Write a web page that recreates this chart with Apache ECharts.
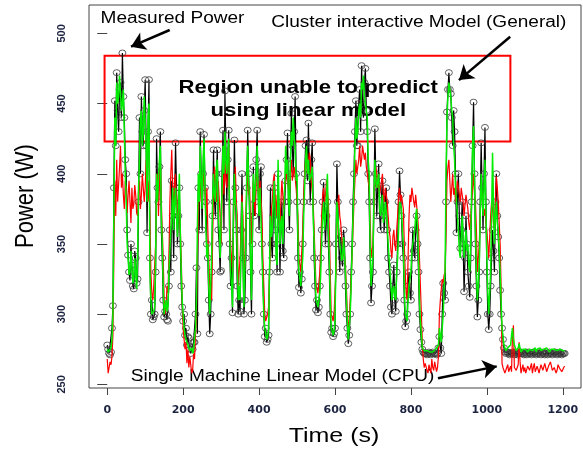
<!DOCTYPE html>
<html>
<head>
<meta charset="utf-8">
<script src="https://cdn.jsdelivr.net/npm/echarts@6/dist/echarts.min.js"></script>
<style>
html,body{margin:0;padding:0;background:#fff;}
#chart{width:583px;height:453px;}
</style>
</head>
<body>
<div id="chart"></div>
<script>
// Sampling step of the time axis (seconds)
const STEP = 2.5;

// Measured power (W), one value every 2.5 s starting at t = 0 (rows of 50 s)
const measured = [
 278,275,272,271,273,290,306,390,452,420,472,445,430,460,465,440,486,455,440,410,
 400,360,342,330,324,350,335,320,318,345,340,322,325,380,440,400,455,430,420,445,
 467,420,358,430,467,340,300,310,296,298,300,330,425,390,380,405,430,360,340,310,
 298,302,300,296,295,320,360,330,395,370,340,380,422,390,350,370,390,350,320,305,
 295,300,285,290,278,284,283,275,272,276,275,280,280,300,333,286,390,360,430,400,
 360,400,428,390,380,350,340,310,286,300,330,370,417,380,370,400,417,360,350,330,
 331,400,431,360,459,420,380,410,431,350,320,340,301,380,424,390,360,320,300,310,
 302,360,400,340,300,310,340,390,431,400,370,330,300,350,405,370,380,410,431,390,
 360,400,405,350,330,300,284,290,280,282,285,330,390,350,340,370,390,360,350,330,
 400,370,330,360,380,345,340,380,395,410,429,380,360,400,443,420,400,430,455,400,
 380,340,319,330,315,325,350,380,400,420,424,395,436,400,380,410,422,380,340,320,
 303,310,301,305,320,340,360,380,394,370,350,370,380,350,330,300,287,290,284,286,
 290,350,407,380,350,330,355,340,334,360,350,320,300,290,279,285,300,330,350,380,
 400,430,452,420,420,450,460,430,477,450,440,465,475,445,430,400,380,340,308,320,
 330,380,432,400,370,390,407,370,360,385,395,370,360,380,390,360,340,330,320,305,
 300,320,335,310,302,330,350,380,402,385,370,350,340,310,291,295,300,320,330,315,
 310,340,360,345,340,360,370,350,330,300,289,280,275,273,272,272,272,271,272,273,
 272,271,272,273,272,272,272,271,272,276,284,276,272,300,322,315,310,380,444,460,
 472,460,457,440,420,445,430,400,358,380,400,370,347,360,380,350,316,340,370,350,
 330,320,312,340,380,420,451,400,350,320,298,310,330,380,422,390,360,400,433,380,
 330,300,289,300,320,340,360,345,330,380,400,370,355,340,317,300,290,282,276,273,
 272,273,273,272,271,272,272,273,272,271,273,272,271,272,272,273,273,272,272,271,
 272,273,271,272,273,272,272,271,272,273,273,272,271,272,272,273,272,271,273,272,
 272,271,272,273,271,272,273,272,272,271,272,273,273,272,271,272,272,273,272,271,
 272,272,272
];

// Single Machine Linear Model (CPU) prediction (W)
const linearModel = [
 268,258,262,266,264,270,285,340,395,370,410,380,380,405,420,390,400,385,375,395,
 390,372,385,395,380,365,390,375,378,392,385,372,370,388,395,375,385,400,400,380,
 390,410,405,380,395,370,330,315,310,320,320,350,385,400,370,395,410,380,360,340,
 310,300,305,320,315,340,380,400,417,390,370,395,400,375,365,385,385,360,340,310,
 290,282,275,280,265,275,262,270,270,258,260,272,268,285,300,340,370,390,395,380,
 380,395,400,385,370,390,360,340,320,315,310,350,390,405,405,380,380,395,395,370,
 350,380,400,385,410,395,390,410,420,380,350,340,330,360,390,405,380,370,320,330,
 340,360,385,370,320,340,370,390,400,385,390,370,350,380,395,380,370,395,410,390,
 380,395,395,370,340,320,300,295,295,300,305,330,350,375,380,395,400,385,370,385,
 385,370,360,380,395,385,375,390,390,400,400,390,385,400,410,395,395,405,405,390,
 390,370,340,335,330,345,360,385,400,410,415,400,400,415,410,395,395,380,360,340,
 320,318,315,322,330,350,370,385,390,380,385,395,395,380,360,330,300,298,295,300,
 300,330,360,380,385,370,365,355,350,345,345,335,320,300,290,295,310,325,340,360,
 380,395,410,400,400,410,420,405,410,420,420,410,415,405,400,395,390,370,340,345,
 350,380,395,405,400,390,395,385,385,395,400,385,380,390,390,380,370,360,355,345,
 340,355,360,350,345,360,370,385,390,380,385,380,375,350,330,315,310,340,370,385,
 380,390,390,380,376,385,385,370,360,340,320,300,280,268,262,265,266,260,258,264,
 263,258,268,262,260,266,265,259,262,270,300,310,318,325,322,328,330,360,395,405,
 410,395,380,390,400,385,390,380,385,395,395,385,380,390,390,380,370,378,385,380,
 375,365,360,370,380,390,400,385,380,360,330,340,350,370,390,385,380,370,375,365,
 360,350,340,355,370,380,375,365,360,380,398,390,380,365,350,320,265,262,262,258,
 260,262,264,259,261,263,259,285,292,262,263,260,262,264,280,266,258,261,264,259,
 262,258,259,263,264,260,261,265,258,262,265,259,260,263,263,258,259,264,262,260,
 261,265,264,259,258,263,262,266,265,260,259,262,263,258,260,264,264,261,262,259,
 260,262,263
];

// Cluster interactive Model (General) prediction (W)
const clusterModel = [
 275,273,273,272,276,282,300,370,440,420,465,450,455,470,470,445,450,460,430,400,
 380,350,340,328,330,345,345,322,325,340,330,318,340,390,410,440,445,420,430,455,
 455,420,380,440,450,330,310,300,300,302,305,340,400,380,395,410,420,370,350,320,
 300,305,310,302,305,330,345,360,370,390,360,380,390,370,355,375,400,360,330,310,
 300,290,285,282,280,278,278,274,274,276,272,275,276,290,310,360,400,380,420,395,
 375,410,425,390,360,340,350,320,300,320,340,380,400,385,380,405,410,370,360,340,
 340,390,420,400,430,410,400,415,425,360,330,320,305,370,400,380,375,340,310,320,
 310,350,380,350,305,330,350,400,420,395,380,340,310,360,400,380,390,400,420,385,
 370,390,390,345,320,300,290,286,282,284,290,330,370,355,360,380,395,370,340,335,
 410,380,350,365,370,350,350,390,420,400,410,380,370,410,430,420,440,425,420,395,
 400,350,330,325,320,330,340,370,390,410,420,400,410,395,395,400,405,370,350,330,
 310,308,305,310,315,330,355,370,380,360,370,385,400,360,340,310,290,288,285,288,
 295,340,380,370,370,350,345,338,340,355,355,330,310,295,282,290,300,320,345,370,
 390,420,440,425,430,445,450,440,465,460,470,455,455,445,440,410,400,350,320,330,
 340,385,410,395,390,395,400,375,370,378,385,365,370,380,380,365,350,340,330,320,
 310,318,320,312,310,330,340,360,380,378,375,360,350,320,300,298,295,310,320,325,
 330,345,350,355,360,370,375,360,340,310,295,285,276,275,274,273,273,274,274,273,
 273,274,274,273,273,274,275,274,274,278,290,285,280,290,300,320,330,400,440,455,
 465,460,455,445,440,420,410,390,380,370,360,345,340,355,370,355,340,350,360,345,
 350,335,330,350,390,420,434,395,360,330,310,320,335,370,400,385,370,390,410,375,
 340,315,300,315,330,370,415,380,350,370,380,365,360,345,330,310,290,284,278,276,
 274,275,276,275,275,278,285,290,282,278,276,274,274,276,279,276,273,274,275,276,
 274,275,275,273,273,275,276,274,274,275,275,276,273,275,274,276,276,274,275,273,
 275,274,274,276,276,275,273,274,275,276,274,275,276,274,274,273,273,275,275,274,
 274,273,274
];

// Tick labels
const xTicks = [0, 200, 400, 600, 800, 1000, 1200];
const yTicks = [250, 300, 350, 400, 450, 500];

// Annotation region (time range and power range) and arrow end points
const regionBox = [[-7, 484], [1062, 423]];
const arrows = [
  [[164.6, 502.4], [62.7, 490.5]],
  [[1061.4, 497.6], [926.5, 466.7]],
  [[871.2, 254.3], [1026, 262.8]]
];

const pair = arr => arr.map((v, i) => [i * STEP, v]);

const chart = echarts.init(document.getElementById('chart'), null, {renderer: 'canvas'});
const FONT = 'Liberation Sans, Arial, sans-serif';
const SX = 1.19;
const TICK_COLOR = '#1c2340';

const option = {
  animation: false,
  backgroundColor: '#ffffff',
  grid: {left: 89, right: 2, top: 5, bottom: 65, show: true, borderColor: '#444', borderWidth: 1, backgroundColor: 'transparent'},
  xAxis: {
    type: 'value', min: -48, max: 1248,
    axisLine: {show: false},
    splitLine: {show: false},
    axisTick: {show: true, length: 7, customValues: xTicks, lineStyle: {color: '#444'}},
    axisLabel: {customValues: xTicks, formatter: v => String(v), fontSize: 11, fontWeight: 'bold', fontFamily: 'DejaVu Sans', color: TICK_COLOR, margin: 17}
  },
  yAxis: {
    type: 'value', min: 247.4, max: 520.2,
    axisLine: {show: false},
    splitLine: {show: false},
    axisTick: {show: true, length: 10, customValues: yTicks, lineStyle: {color: '#444'}},
    axisLabel: {customValues: yTicks, formatter: v => String(v), rotate: 90, fontSize: 11, fontWeight: 'bold', fontFamily: FONT, color: TICK_COLOR, margin: 22}
  },
  series: [
    {
      name: 'Measured Power', type: 'line', data: pair(measured), z: 2,
      symbol: 'path://M0,-1A1,1 0 1,1 0,1A1,1 0 1,1 0,-1Z', symbolSize: [7, 6],
      showSymbol: true,
      itemStyle: {color: 'rgba(0,0,0,0)', borderColor: '#3a3a3a', borderWidth: 0.8},
      lineStyle: {color: '#000', width: 1.2},
      emphasis: {disabled: true}
    },
    {
      name: 'Single Machine Linear Model (CPU)', type: 'line', data: pair(linearModel), z: 3,
      showSymbol: false, lineStyle: {color: '#ff0000', width: 1.2}, emphasis: {disabled: true}
    },
    {
      name: 'Cluster interactive Model (General)', type: 'line', data: pair(clusterModel), z: 4,
      showSymbol: false, lineStyle: {color: '#00ee00', width: 1.5}, emphasis: {disabled: true}
    },
    {
      name: 'annotations', type: 'line', data: [], z: 10, silent: true,
      markArea: {
        silent: true,
        itemStyle: {color: 'rgba(0,0,0,0)', borderColor: '#ff0000', borderWidth: 2},
        label: {show: false},
        data: [[{coord: regionBox[0]}, {coord: regionBox[1]}]]
      },
      markLine: {
        silent: true, symbol: ['none', 'arrow'], symbolSize: 14,
        label: {show: false},
        lineStyle: {color: '#000', width: 2.5, type: 'solid'},
        emphasis: {disabled: true},
        data: arrows.map(a => [{coord: a[0]}, {coord: a[1]}])
      }
    }
  ],
  graphic: [
    {type: 'text', x: 172.5, y: 18.8, scaleX: SX, silent: true,
     style: {text: 'Measured Power', fontSize: 16, fontFamily: FONT, fill: '#000', align: 'center', verticalAlign: 'middle'}},
    {type: 'text', x: 418.8, y: 22.9, scaleX: SX, silent: true,
     style: {text: 'Cluster interactive Model (General)', fontSize: 16, fontFamily: FONT, fill: '#000', align: 'center', verticalAlign: 'middle'}},
    {type: 'text', x: 282.6, y: 377, scaleX: SX, silent: true,
     style: {text: 'Single Machine Linear Model (CPU)', fontSize: 16, fontFamily: FONT, fill: '#000', align: 'center', verticalAlign: 'middle'}},
    {type: 'text', x: 308.3, y: 87.7, scaleX: SX, silent: true,
     style: {text: 'Region unable to predict', fontSize: 18.6, fontWeight: 'bold', fontFamily: FONT, fill: '#000', align: 'center', verticalAlign: 'middle'}},
    {type: 'text', x: 308.3, y: 110.5, scaleX: SX, silent: true,
     style: {text: 'using linear model', fontSize: 18.6, fontWeight: 'bold', fontFamily: FONT, fill: '#000', align: 'center', verticalAlign: 'middle'}},
    {type: 'text', x: 334, y: 435.8, scaleX: SX, silent: true,
     style: {text: 'Time (s)', fontSize: 21, fontFamily: FONT, fill: '#000', align: 'center', verticalAlign: 'middle'}},
    {type: 'text', x: 26.2, y: 196, rotation: Math.PI / 2, scaleY: SX, silent: true,
     style: {text: 'Power (W)', fontSize: 22, fontFamily: FONT, fill: '#000', align: 'center', verticalAlign: 'middle'}}
  ]
};
chart.setOption(option);
</script>
</body>
</html>
